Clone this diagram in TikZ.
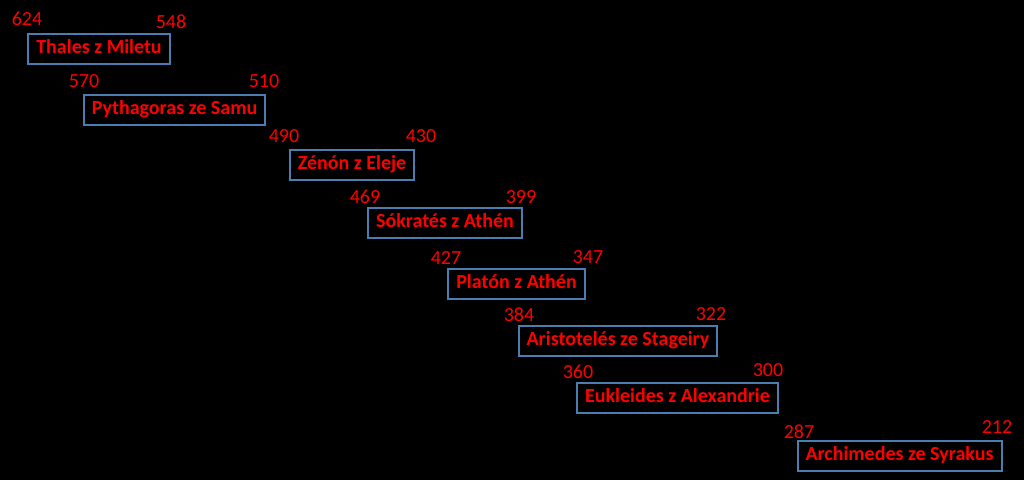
\documentclass[tikz,border=0pt]{standalone}
\usepackage{fontspec}
\setmainfont{Carlito}
\usetikzlibrary{positioning}
\definecolor{boxblue}{HTML}{4A7EB0}

\begin{document}
\begin{tikzpicture}[x=1pt, y=-1pt,
  block/.style={draw=boxblue, line width=2pt, text=red, font=\fontsize{20}{24}\selectfont\bfseries, inner xsep=8pt, minimum height=30pt, text height=13pt, text depth=4pt},
  year/.style={text=red, font=\fontsize{20}{24}\selectfont, inner sep=0pt}]

  % background
  \fill[black] (0,0) rectangle (1024,480);
  \useasboundingbox (0,0) rectangle (1024,480);

  % Philosophers
  \node[block] (P1) at (99,49) {Thales z Miletu};
  \node[block] (P2) at (174.5,110) {Pythagoras ze Samu};
  \node[block] (P3) at (352,164.5) {Zénón z Eleje};
  \node[block] (P4) at (445,223) {Sókratés z Athén};
  \node[block] (P5) at (516.5,283.5) {Platón z Athén};
  \node[block] (P6) at (618,341) {Aristotelés ze Stageiry};
  \node[block] (P7) at (677.5,398) {Eukleides z Alexandrie};
  \node[block] (P8) at (899.5,456) {Archimedes ze Syrakus};

  % Years
  \node[year] (B1) at (27,19) {624};
  \node[year] (D1) at (171,22) {548};
  \node[year] (B2) at (84,81) {570};
  \node[year] (D2) at (264,81) {510};
  \node[year] (B3) at (284,136) {490};
  \node[year] (D3) at (421,136) {430};
  \node[year] (B4) at (365,197) {469};
  \node[year] (D4) at (521,197) {399};
  \node[year] (B5) at (446,258) {427};
  \node[year] (D5) at (588,257) {347};
  \node[year] (B6) at (519,315) {384};
  \node[year] (D6) at (711,314) {322};
  \node[year] (B7) at (578,372) {360};
  \node[year] (D7) at (768,370) {300};
  \node[year] (B8) at (799,432) {287};
  \node[year] (D8) at (997,427) {212};

\end{tikzpicture}
\end{document}
